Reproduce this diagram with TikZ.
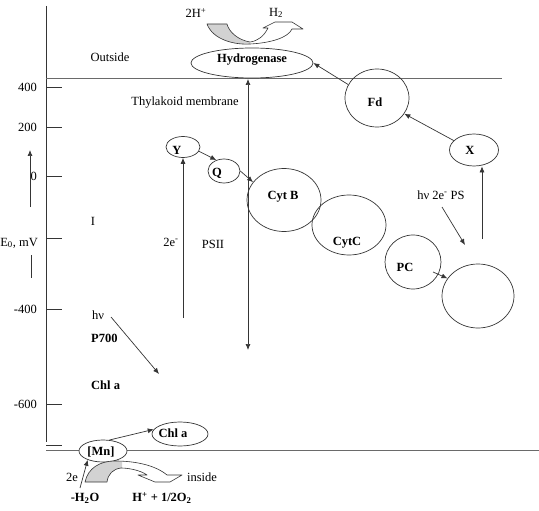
\documentclass[tikz,border=0pt]{standalone}
\usepackage{fontspec}
\setmainfont{Liberation Serif}
\usetikzlibrary{arrows.meta,shapes.geometric}
\definecolor{chainline}{HTML}{353535}
\definecolor{membraneline}{HTML}{6A6A6A}
\definecolor{swoopgray}{HTML}{D2D2D2}

\begin{document}
\begin{tikzpicture}[
  x=1pt,
  y=-1pt,
  line join=round,
  font=\fontsize{12.5}{14}\selectfont,
  carrier/.style={draw=chainline,ellipse,inner sep=0pt,line width=0.7pt},
  tag/.style={inner sep=0pt,font=\fontsize{12.5}{14}\selectfont\bfseries},
  plain/.style={inner sep=0pt},
  flow/.style={draw=chainline,line width=0.7pt,-{Latex[length=6pt,width=5pt]}},
  axisline/.style={draw=chainline,line width=0.8pt},
  membrane/.style={draw=membraneline,line width=0.8pt},
  swoop/.style={draw=chainline,line width=0.6pt}
]
  \useasboundingbox (0,0) rectangle (539,511);

  % Potential axis with its ticks.
  \draw[axisline] (46,6) -- (46,442);
  \foreach \yv/\lab in {87/400,127/200,176/0,238/{},309/-400,404/-600} {
    \draw[axisline] (46,\yv) -- (62,\yv);
    \node[plain,anchor=east] at (37,\yv) {\lab};
  }
  \draw[axisline] (46,445) -- (62,445);
  \node[plain,anchor=east] (Elabel) at (38,243) {E\textsubscript{0}, mV};
  \coordinate (Eup0) at (30,207);
  \coordinate (Eup1) at (30,150);
  \draw[flow] (Eup0) -- (Eup1);
  \draw[axisline] (31,255) -- (31,278);

  % Membrane borders.
  \draw[membrane] (46,78) -- (502,78);
  \draw[membrane] (46,450) -- (539,450);

  % Carriers.
  \node[carrier,minimum width=122,minimum height=30] (H2ase) at (252,63) {};
  \node[carrier,minimum width=64,minimum height=58] (Fd) at (377,98) {};
  \node[carrier,minimum width=49,minimum height=32] (X) at (474,150) {};
  \node[carrier,minimum width=34,minimum height=21] (Y) at (183,147) {};
  \node[carrier,minimum width=32,minimum height=24] (Q) at (224,171) {};
  \node[carrier,minimum width=74,minimum height=63] (CytB) at (284,200) {};
  \node[carrier,minimum width=74,minimum height=60] (CytC) at (349,225) {};
  \node[carrier,minimum width=56,minimum height=54] (PC) at (413,262) {};
  \node[carrier,minimum width=72,minimum height=64] (P700ring) at (478,296) {};
  \node[carrier,minimum width=56,minimum height=24] (ChlaB) at (180,434) {};
  \node[carrier,fill=white,minimum width=48,minimum height=22] (Mn) at (103,451) {};

  \node[tag] (H2asetext) at (252,60) {Hydrogenase};
  \node[tag] (Fdtext) at (375,102) {Fd};
  \node[tag] (Xtext) at (470,150) {X};
  \node[tag] (Ytext) at (177,150) {Y};
  \node[tag] (Qtext) at (217,173) {Q};
  \node[tag] (CytBtext) at (283,197) {Cyt B};
  \node[tag] (CytCtext) at (347,243) {CytC};
  \node[tag] (PCtext) at (405,267) {PC};
  \node[tag] (ChlaBtext) at (173,433) {Chl a};
  \node[tag] (Mntext) at (101,452) {[Mn]};

  % Free labels.
  \node[plain] (outside) at (110,57) {Outside};
  \node[plain] (thyl) at (185,103) {Thylakoid membrane};
  \node[plain] (one) at (93,221) {I};
  \node[plain] (twoe) at (171,242) {2e\textsuperscript{-}};
  \node[plain] (psii) at (213,244) {PSII};
  \node[plain] (hnu) at (98,315) {hν};
  \node[tag,anchor=west] (p700) at (91,338) {P700};
  \node[tag,anchor=west] (chla) at (91,385) {Chl a};
  \node[plain] (psi) at (441,195) {hν 2e\textsuperscript{-} PS};
  \node[plain] (hplus) at (196,13) {2H\textsuperscript{+}};
  \node[plain] (htwo) at (276,13) {H\textsubscript{2}};
  \node[plain] (twoelow) at (72,477) {2e};
  \node[plain] (inside) at (202,477) {inside};
  \node[tag] (water) at (85,498) {-H\textsubscript{2}O};
  \node[tag] (oxygen) at (162,498) {H\textsuperscript{+} + 1/2O\textsubscript{2}};

  % Electron path.
  \coordinate (longtop) at (248,79);
  \coordinate (longbot) at (248,350);
  \draw[flow,{Latex[length=6pt,width=5pt]}-{Latex[length=6pt,width=5pt]}] (longtop) -- (longbot);
  \coordinate (psiifoot) at (183,318);
  \draw[flow] (psiifoot) -- (Y.south);
  \draw[flow] (Y.-15) -- (Q.125);
  \draw[flow] (Q.east) -- (CytB.150);
  \coordinate (hnu0) at (111,317);
  \coordinate (hnu1) at (159,374);
  \draw[flow] (hnu0) -- (hnu1);
  \coordinate (psi0) at (442,207);
  \coordinate (psi1) at (465,245);
  \draw[flow] (psi0) -- (psi1);
  \coordinate (pcstart) at (433,272);
  \draw[flow] (pcstart) -- (P700ring.150);
  \coordinate (xfoot) at (482,239);
  \draw[flow] (xfoot) -- (xfoot |- X.south);
  \draw[flow] (X.155) -- (Fd.-30);
  \draw[flow] (Fd.155) -- (H2ase.east);
  \draw[flow] (Mn.60) -- (ChlaB.170);
  \coordinate (wfoot) at (80,488);
  \draw[flow] (wfoot) -- (Mn.-150);

  % Curved block arrows, grey tail.
  \def\topswoop{(207,24) .. controls (213,40) and (235,45) .. (250,44)
    .. controls (270,43) and (288,38) .. (292,29) -- (303,29) -- (292,22)
    -- (275,22) -- (263,28) -- (268,28) .. controls (264,36) and (258,41) .. (250,42)
    .. controls (238,40) and (229,32) .. (227,24) -- cycle}
  \fill[white] \topswoop;
  \begin{scope}
    \clip (190,10) rectangle (250,50);
    \fill[swoopgray] \topswoop;
  \end{scope}
  \draw[swoop] \topswoop;

  \def\lowswoop{(85,482) .. controls (88,468) and (100,461) .. (115,461)
    .. controls (135,461) and (155,465) .. (167,475) -- (182,475) -- (170,482)
    -- (155,482) -- (138,475) -- (147,475) .. controls (140,470) and (128,468) .. (121,468)
    .. controls (113,469) and (108,474) .. (107,482) -- cycle}
  \fill[white] \lowswoop;
  \begin{scope}
    \clip (70,455) rectangle (122,490);
    \fill[swoopgray] \lowswoop;
  \end{scope}
  \draw[swoop] \lowswoop;
\end{tikzpicture}
\end{document}
